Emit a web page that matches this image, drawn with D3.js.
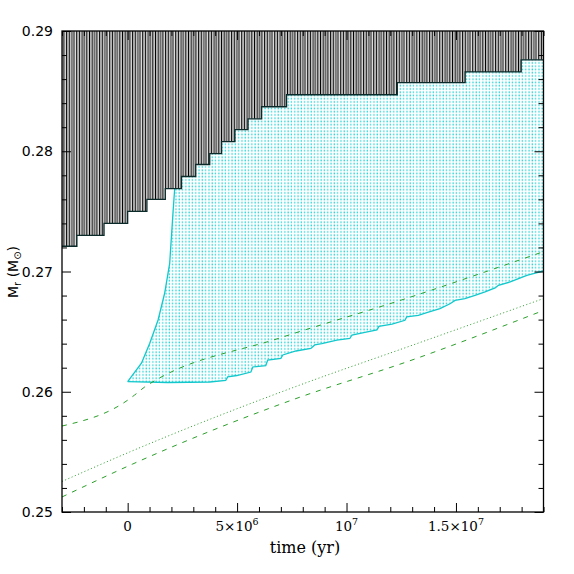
<!DOCTYPE html>
<html>
<head>
<meta charset="utf-8">
<script src="https://cdn.jsdelivr.net/npm/d3@7/dist/d3.min.js"></script>
<style>
  body { margin: 0; background: #fff; }
</style>
</head>
<body>
<svg width="574" height="574"></svg>
<script>
// times in Myr, masses in Msun

// upper (hatched) region: staircase start times and levels
var stepT = [-3, -2.32, -1.08, 0, 0.88, 1.72, 2.46, 3.11, 3.75, 4.29, 4.9, 5.5, 6.12, 7.26, 12.32, 15.42, 17.98]
var stepM = [0.2721, 0.2730, 0.2740, 0.2750, 0.2760, 0.2769, 0.2779, 0.2789, 0.2798, 0.2808, 0.2818, 0.2827, 0.2837, 0.2847, 0.2857, 0.2866, 0.2876]
var tEnd = 19

// left edge of the cyan zone
var edgeT = [0, 0.17, 0.63, 1.01, 1.39, 1.69, 1.92, 2.07, 2.15]
var edgeM = [0.26085, 0.26125, 0.26237, 0.26403, 0.26597, 0.26819, 0.27068, 0.27484, 0.27692]

// lower edge of the cyan zone
var lowT = [0, 1.83, 3.75, 4.48, 4.57, 4.99, 5.63, 5.72, 6.31, 6.40, 7.00, 7.09, 7.69, 8.37, 8.55, 8.87, 9.56, 10.15, 10.25, 10.84, 11.39, 11.48, 12.08,
  12.67, 12.75, 13.28, 13.74, 14.27, 14.73, 14.96, 15.41, 15.87, 16.33, 16.79, 16.94, 17.48, 17.86, 18.24, 18.54, 18.93, 19]
var lowM = [0.26085, 0.26077, 0.26081, 0.26094, 0.26123, 0.26135, 0.26164, 0.26206, 0.26218, 0.26264, 0.26277, 0.26306, 0.26339, 0.26360, 0.26389, 0.26401, 0.26430, 0.26443, 0.26472, 0.26493, 0.26514, 0.26543, 0.26563,
  0.26594, 0.26622, 0.26636, 0.26663, 0.26691, 0.26732, 0.26760, 0.26774, 0.26802, 0.26830, 0.26863, 0.26885, 0.26913, 0.26940, 0.26968, 0.26982, 0.27002, 0.27002]

// green curves
var dashAT = [-3, 0, 0.32, 0.78, 1.14, 6.95, 12.75, 19]
var dashAM = [0.25715, 0.2593, 0.25973, 0.2604, 0.26081, 0.26447, 0.26777, 0.27165]
var dotT = [-3, 0.09, 7.87, 12.9, 19]
var dotM = [0.25254, 0.25499, 0.26056, 0.2638, 0.26775]
var dashBT = [-3, 0.23, 7.64, 12.9, 19]
var dashBM = [0.25125, 0.25399, 0.2594, 0.26258, 0.26676]

var xMajor = [0, 5e6, 1e7, 1.5e7]
var xLabels = [["0", ""], ["5\u00d710", "6"], ["10", "7"], ["1.5\u00d710", "7"]]
var yMajor = [0.25, 0.26, 0.27, 0.28, 0.29]
var yLabels = ["0.25", "0.26", "0.27", "0.28", "0.29"]

var cyan = '#12c8cc'
var green = '#2a9f2a'

var svg = d3.select('svg')
var x = d3.scaleLinear().domain([-3e6, 1.9e7]).range([62, 543.5])
var y = d3.scaleLinear().domain([0.25, 0.29]).range([512, 31])

var line = d3.line()
  .x(function(d){ return x(d[0] * 1e6) })
  .y(function(d){ return y(d[1]) })

function pairs(ts, ms) {
  return ts.map(function(t, i){ return [t, ms[i]] })
}

var defs = svg.append('defs')
defs.append('clipPath').attr('id', 'plot')
  .append('rect')
  .attr('x', x.range()[0]).attr('y', y.range()[1])
  .attr('width', x.range()[1] - x.range()[0])
  .attr('height', y.range()[0] - y.range()[1])

var hatch = defs.append('pattern').attr('id', 'hatch')
  .attr('patternUnits', 'userSpaceOnUse')
  .attr('width', 3.3).attr('height', 10)
hatch.append('rect').attr('x', 0).attr('y', 0).attr('width', 1).attr('height', 10).attr('fill', '#000')
hatch.append('rect').attr('x', 1.65).attr('y', 0).attr('width', 1).attr('height', 10).attr('fill', '#666')

var dots = defs.append('pattern').attr('id', 'dots')
  .attr('patternUnits', 'userSpaceOnUse')
  .attr('width', 3.3).attr('height', 3.25)
dots.append('rect').attr('x', 0.4).attr('y', 0.4).attr('width', 1.3).attr('height', 1.6).attr('fill', '#22d2d6')

var g = svg.append('g').attr('clip-path', 'url(#plot)')

// staircase as point list
var stairs = []
stepT.forEach(function(t, i){
  var t2 = i < stepT.length - 1 ? stepT[i + 1] : tEnd
  stairs.push([t, stepM[i]])
  stairs.push([t2, stepM[i]])
})

// cyan zone polygon
var tJoin = edgeT[edgeT.length - 1]
var cyanPts = pairs(edgeT, edgeM)
stepT.forEach(function(t, i){
  var t2 = i < stepT.length - 1 ? stepT[i + 1] : tEnd
  if (t2 <= tJoin) return
  cyanPts.push([Math.max(t, tJoin), stepM[i]])
  cyanPts.push([t2, stepM[i]])
})
var lowPts = pairs(lowT, lowM)
cyanPts = cyanPts.concat(lowPts.slice().reverse())

g.append('path')
  .attr('d', line(cyanPts) + 'Z')
  .attr('fill', 'url(#dots)')
  .attr('stroke', 'none')

g.append('path')
  .attr('d', line(pairs(edgeT, edgeM)))
  .attr('fill', 'none').attr('stroke', cyan).attr('stroke-width', 1.3)
g.append('path')
  .attr('d', line(lowPts))
  .attr('fill', 'none').attr('stroke', cyan).attr('stroke-width', 1.3)

// hatched zone
var blackPts = stairs.concat([[tEnd, 0.29], [stepT[0], 0.29]])
g.append('path')
  .attr('d', line(blackPts) + 'Z')
  .attr('fill', 'url(#hatch)')
  .attr('stroke', 'none')
g.append('path')
  .attr('d', line(stairs))
  .attr('fill', 'none').attr('stroke', '#0a2a2a').attr('stroke-width', 1.3)

// green curves
g.append('path')
  .attr('d', line.curve(d3.curveMonotoneX)(pairs(dashAT, dashAM)))
  .attr('fill', 'none').attr('stroke', green).attr('stroke-width', 1)
  .attr('stroke-dasharray', '5,6')
g.append('path')
  .attr('d', line(pairs(dotT, dotM)))
  .attr('fill', 'none').attr('stroke', green).attr('stroke-width', 1)
  .attr('stroke-dasharray', '1,2.5')
g.append('path')
  .attr('d', line(pairs(dashBT, dashBM)))
  .attr('fill', 'none').attr('stroke', green).attr('stroke-width', 1)
  .attr('stroke-dasharray', '5,6')
line.curve(d3.curveLinear)

// axes: ticks inward on all four sides
var xMinor = d3.range(-3e6, 1.9e7 + 1, 1e6).filter(function(v){ return xMajor.indexOf(v) < 0 })
var yMinor = d3.range(0, 21).map(function(i){ return +(0.25 + i * 0.002).toFixed(3) })
  .filter(function(v){ return yMajor.indexOf(v) < 0 })

function drawAxis(axisFn, scale, pos, major, minor) {
  svg.append('g').attr('transform', pos)
    .call(axisFn(scale).tickValues(major).tickSize(-9).tickFormat(''))
    .call(function(a){ a.select('.domain').remove() })
  svg.append('g').attr('transform', pos)
    .call(axisFn(scale).tickValues(minor).tickSize(-5).tickFormat(''))
    .call(function(a){ a.select('.domain').remove() })
}
drawAxis(d3.axisBottom, x, 'translate(0,512)', xMajor, xMinor)
drawAxis(d3.axisTop, x, 'translate(0,31)', xMajor, xMinor)
drawAxis(d3.axisLeft, y, 'translate(62,0)', yMajor, yMinor)
drawAxis(d3.axisRight, y, 'translate(543.5,0)', yMajor, yMinor)
svg.selectAll('.tick line').attr('stroke', '#000').attr('stroke-width', 1)

svg.append('rect')
  .attr('x', x.range()[0]).attr('y', y.range()[1])
  .attr('width', x.range()[1] - x.range()[0])
  .attr('height', y.range()[0] - y.range()[1])
  .attr('fill', 'none').attr('stroke', '#000').attr('stroke-width', 1.3)

// tick labels
svg.selectAll('.ylab').data(yMajor).enter().append('text')
  .attr('x', 53).attr('y', function(d){ return y(d) + 5 })
  .attr('text-anchor', 'end')
  .attr('font-family', 'DejaVu Sans').attr('font-size', 14)
  .text(function(d, i){ return yLabels[i] })

var xl = svg.selectAll('.xlab').data(xMajor).enter().append('text')
  .attr('x', function(d){ return x(d) }).attr('y', 531)
  .attr('text-anchor', 'middle')
  .attr('font-family', 'DejaVu Serif').attr('font-size', 13.5)
xl.append('tspan').text(function(d, i){ return xLabels[i][0] })
xl.append('tspan').attr('dy', -6).attr('font-size', 9.5).text(function(d, i){ return xLabels[i][1] })

// axis titles
svg.append('text')
  .attr('x', 305).attr('y', 553).attr('text-anchor', 'middle')
  .attr('font-family', 'DejaVu Serif').attr('font-size', 16)
  .text('time (yr)')

var yt = svg.append('text')
  .attr('transform', 'translate(18,272) rotate(-90)')
  .attr('text-anchor', 'middle')
  .attr('font-family', 'DejaVu Sans').attr('font-size', 14)
yt.append('tspan').text('M')
yt.append('tspan').attr('dy', 3).attr('font-size', 10).text('r')
yt.append('tspan').attr('dy', -3).text(' (M')
yt.append('tspan').attr('dy', 3).attr('font-size', 10).text('\u2299')
yt.append('tspan').attr('dy', -3).text(')')
</script>
</body>
</html>
